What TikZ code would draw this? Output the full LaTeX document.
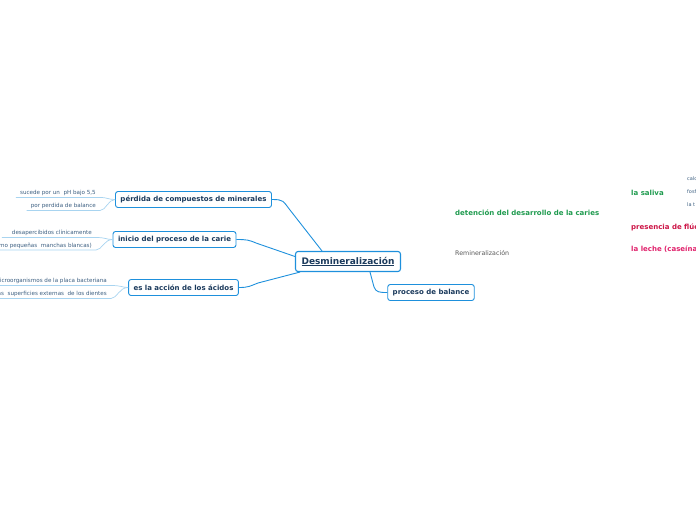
\documentclass[tikz,border=0pt]{standalone}
\usepackage{fontspec}
\setmainfont{DejaVu Sans}
\usepackage{tikz}
\usepackage{xcolor}
\definecolor{mmblue}{HTML}{1E90DC}
\definecolor{mmnavy}{HTML}{1B3A5C}
\definecolor{mmleaf}{HTML}{3B5E80}
\definecolor{mmline}{HTML}{A8D4F0}
\definecolor{mmgreen}{HTML}{1E9A4E}
\definecolor{mmred}{HTML}{CC1446}
\definecolor{mmpink}{HTML}{E0226C}

\begin{document}
\begin{tikzpicture}[x=1pt,y=-1pt,
  topic/.style={draw=mmblue,line width=0.9pt,rounded corners=2.5pt,fill=white,
    text=mmnavy,font=\fontsize{7}{8}\selectfont\bfseries,minimum height=16pt,inner xsep=5pt},
  central/.style={topic,line width=1.1pt,font=\fontsize{9}{10}\selectfont\bfseries,
    minimum height=20pt,inner xsep=6pt},
  leaf/.style={text=mmleaf,font=\fontsize{5.6}{6}\selectfont,inner xsep=4pt,inner ysep=1.6pt},
  branch/.style={draw=mmblue,line width=0.9pt},
  leafline/.style={draw=mmline,line width=0.7pt},
  free/.style={anchor=west,inner sep=0pt,font=\fontsize{7}{8}\selectfont\bfseries}]
\useasboundingbox (0,0) rectangle (696,520);
\node[central] (desm) at (348,261.5) {\underline{Desmineralización}};
\node[topic] (perdida) at (193.5,199.5) {pérdida de compuestos de minerales};
\node[topic] (inicio) at (174.5,239.5) {inicio del proceso de la carie};
\node[topic] (acidos) at (183.5,287.5) {es la acción de los ácidos};
\node[topic] (balance) at (431,292.5) {proceso de balance};
\draw[branch] (perdida.east) .. controls (284,199.5) and (283,201) .. (290,210) -- ([xshift=-26pt]desm.north);
\draw[branch] (inicio.east) .. controls (247,239.5) and (249,240) .. (256,243) -- ([yshift=5pt]desm.west);
\draw[branch] (acidos.east) .. controls (249,287.5) and (250,286) .. (258,283) -- ([xshift=-48pt]desm.south);
\draw[branch] ([xshift=22pt]desm.south) -- (374,287) .. controls (376,292.5) and (380,292.5) .. (balance.west);
\node[leaf,anchor=south east] (pH) at (100,197.5) {sucede por un\ \ pH bajo 5,5};
\node[leaf,anchor=south east] (perbal) at (100,210.5) {por perdida de balance};
\draw[leafline] (pH.south west) -- (pH.south east) .. controls (108,197.5) and (108,199.5) .. (perdida.west);
\draw[leafline] (perbal.south west) -- (perbal.south east) .. controls (106,210.5) and (108,199.5) .. (perdida.west);
\node[leaf,anchor=south east] (desap) at (96,237.5) {desapercibidos clínicamente};
\node[leaf,anchor=south east] (manchas) at (96,250) {(como pequeñas\ \ manchas blancas)};
\draw[leafline] ([xshift=-6pt]desap.south west) -- (desap.south east) .. controls (106,237.5) and (106,239.5) .. (inicio.west);
\draw[leafline] (manchas.south west) -- (manchas.south east) .. controls (102,250) and (104,239.5) .. (inicio.west);
\node[leaf,anchor=south east] (micro) at (111,285.5) {microorganismos de la placa bacteriana};
\node[leaf,anchor=south east] (superf) at (111,298.5) {las\ \ superficies externas\ \ de los dientes};
\draw[leafline] (micro.south west) -- (micro.south east) .. controls (122,285.5) and (122,287.5) .. (acidos.west);
\draw[leafline] (superf.south west) -- (superf.south east) .. controls (117,298.5) and (119,287.5) .. (acidos.west);
\node[free,text=mmgreen] (deten) at (455,212.5) {detención del desarrollo de la caries};
\node[free,text=black!65,font=\fontsize{6.3}{7}\selectfont] (remin) at (455,253) {Remineralización};
\node[free,text=mmgreen] (saliva) at (631,192.5) {la saliva};
\node[free,text=mmleaf,font=\fontsize{5}{6}\selectfont] (calcio) at (687,179) {calcio};
\node[free,text=mmleaf,font=\fontsize{5}{6}\selectfont] (fosfato) at (687,192) {fosfato};
\node[free,text=mmleaf,font=\fontsize{5}{6}\selectfont] (lat) at (687,205) {la t};
\node[free,text=mmred] (fluor) at (631,227.5) {presencia de flúor};
\node[free,text=mmpink] (leche) at (631,249.5) {la leche (caseína)};
\end{tikzpicture}
\end{document}
